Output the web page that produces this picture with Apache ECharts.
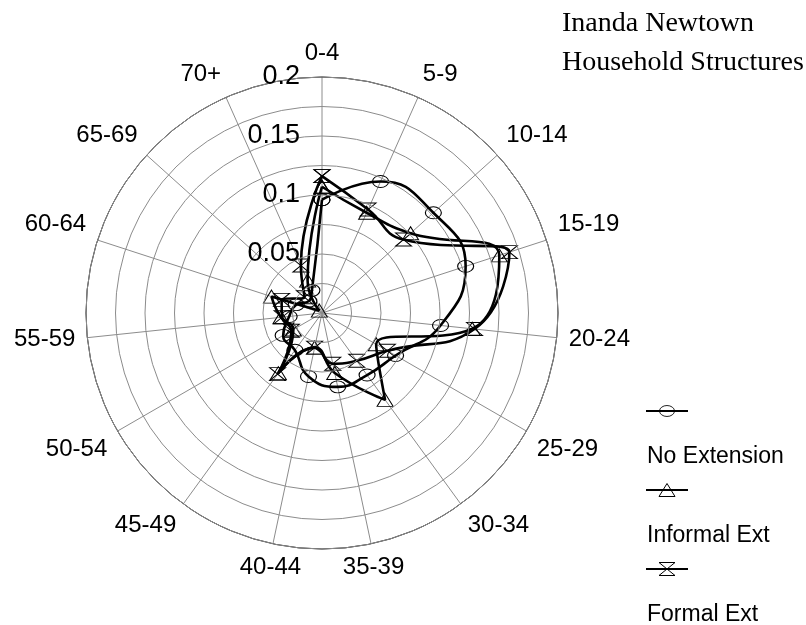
<!DOCTYPE html>
<html>
<head>
<meta charset="utf-8">
<script src="https://cdn.jsdelivr.net/npm/echarts@6/dist/echarts.min.js"></script>
<style>
html,body{margin:0;padding:0;background:#fff;}
#chart{width:806px;height:625px;}
</style>
</head>
<body>
<div id="chart"></div>
<script>
const categories = ['0-4','5-9','10-14','15-19','20-24','25-29','30-34','35-39','40-44','45-49','50-54','55-59','60-64','65-69','70+'];
const noExtension = [0.096,0.122,0.127,0.128,0.101,0.072,0.065,0.064,0.055,0.039,0.038,0.028,0.023,0.015,0.021];
const informalExt = [0.107,0.093,0.101,0.158,0.128,0.053,0.091,0.052,0.030,0.063,0.028,0.035,0.045,0.003,0.030];
const formalExt   = [0.116,0.096,0.093,0.167,0.130,0.064,0.050,0.044,0.030,0.064,0.030,0.034,0.036,0.020,0.044];
const seriesNames = ['No Extension','Informal Ext','Formal Ext'];
const radiusTicks = [0.05,0.1,0.15,0.2];
const titleLines = ['Inanda Newtown','Household Structures'];

const hourglass = 'path://M0,0 L10,0 L0,10 L10,10 Z';
const symbols = ['circle','triangle',hourglass];
const allValues = [noExtension, informalExt, formalExt];

function closedLoop(vals){
  const out = [];
  for(let i=0;i<=vals.length;i++){ out.push([vals[i%vals.length], i]); }
  return out;
}

const chart = echarts.init(document.getElementById('chart'));
const cx = 322, cy = 313;

const series = allValues.map((vals,k)=>({
  name: seriesNames[k],
  type: 'line',
  coordinateSystem: 'polar',
  smooth: 0.5,
  data: closedLoop(vals),
  symbol: symbols[k],
  symbolSize: k===0 ? [16,12] : [16,13],
  showAllSymbol: true,
  lineStyle: {color:'#000', width:2.6},
  itemStyle: {color:'rgba(255,255,255,0)', borderColor:'#000', borderWidth:1},
  emphasis: {disabled:true},
  z: 3+k
}));

const legendGraphic = [];
const legendTop = 411, legendStep = 79;
seriesNames.forEach((name,k)=>{
  const y = legendTop + k*legendStep;
  legendGraphic.push({type:'line', shape:{x1:646,y1:y,x2:688,y2:y}, style:{stroke:'#000', lineWidth:2}});
  if(k===0){
    legendGraphic.push({type:'circle', shape:{cx:667, cy:y, r:7.5}, scaleY:0.73, originX:667, originY:y, style:{fill:'none', stroke:'#000', lineWidth:1}});
  } else if(k===1){
    legendGraphic.push({type:'polygon', shape:{points:[[667,y-6.5],[675,y+6.5],[659,y+6.5]]}, style:{fill:'none', stroke:'#000', lineWidth:1}});
  } else {
    legendGraphic.push({type:'polygon', shape:{points:[[659,y-6.5],[675,y-6.5],[659,y+6.5],[675,y+6.5]]}, style:{fill:'none', stroke:'#000', lineWidth:1}});
  }
  legendGraphic.push({type:'text', left:647, top:y+34, style:{text:name, fill:'#000', font:'23px "Liberation Sans", Arial, sans-serif', textVerticalAlign:'middle'}});
});

const titleGraphic = titleLines.map((t,i)=>({
  type:'text', left:562, top: 10 + i*39,
  style:{text:t, fill:'#000', font:'28px "Liberation Serif", "Times New Roman", serif'}
}));

chart.setOption({
  animation:false,
  backgroundColor:'#fff',
  polar:{center:[cx,cy], radius:236},
  angleAxis:{
    type:'value', min:0, max:categories.length, interval:1,
    startAngle:90, clockwise:true,
    axisLine:{show:true, lineStyle:{color:'#000', width:1}},
    axisTick:{show:false},
    splitLine:{show:true, lineStyle:{color:'#8c8c8c', width:1}},
    axisLabel:{
      show:true, margin:12, color:'#000', fontSize:24, fontFamily:'"Liberation Sans", Arial, sans-serif',
      formatter:(v)=> (v>=0 && v<categories.length) ? categories[v] : ''
    }
  },
  radiusAxis:{
    type:'value', min:0, max:0.2, interval:0.025,
    axisLine:{show:false}, axisTick:{show:false},
    splitLine:{show:true, lineStyle:{color:'#8c8c8c', width:1}},
    axisLabel:{
      show:true, color:'#000', fontSize:27, fontFamily:'"Liberation Sans", Arial, sans-serif',
      margin:22, align:'right', verticalAlign:'middle',
      formatter:(v)=>{
        const m = radiusTicks.find(t=>Math.abs(t-v)<1e-9);
        return m===undefined ? '' : String(m);
      }
    },
    z:10
  },
  series: series,
  graphic: titleGraphic.concat(legendGraphic)
});
</script>
</body>
</html>
